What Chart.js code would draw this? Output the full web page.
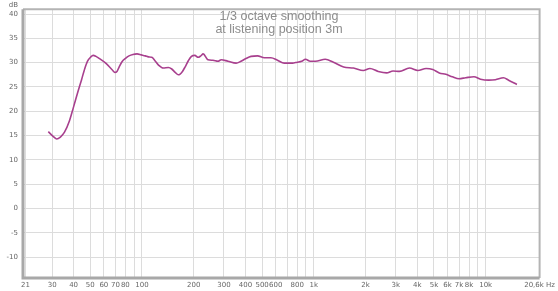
<!DOCTYPE html>
<html><head><meta charset="utf-8">
<script src="https://cdn.jsdelivr.net/npm/chart.js@4/dist/chart.umd.min.js"></script>
<style>html,body{margin:0;padding:0;background:#fff}#w{width:558px;height:291px;position:relative}</style>
</head><body><div id="w"><canvas id="c"></canvas></div>
<script>
const freqHz = [28.5,30.5,31.9,33.5,35.4,37.8,39.9,42.2,44.5,46.1,48.2,50.4,52.0,54,56.3,61.5,67.2,69.6,71.5,73.4,76.5,80.2,84,88.6,93.6,99,104.6,109,114,119,124.8,133,142.5,149,156,162.8,166,172,178,186,194,203,212,220,227,242,259,277,289,316,353,377,400,431,470,515,563,614,672,750,800,850,894,953,1022,1165,1300,1491,1700,1940,2120,2370,2650,2890,3150,3600,4030,4500,4920,5370,5860,6400,7000,7650,8540,9330,10420,11400,12700,13600,15200];
const splDb = [15.8,14.8,14.3,14.7,15.7,18.0,20.8,23.8,26.5,28.4,30.3,31.2,31.5,31.3,30.9,29.9,28.5,28.0,28.2,29.0,30.2,30.9,31.4,31.7,31.8,31.6,31.4,31.2,31.1,30.4,29.5,28.9,29.0,28.7,28.0,27.5,27.6,28.2,29.1,30.4,31.3,31.5,31.1,31.4,31.8,30.6,30.5,30.3,30.6,30.3,29.9,30.3,30.8,31.3,31.4,31.0,31.0,30.5,29.9,29.9,30.1,30.3,30.7,30.3,30.3,30.7,30.1,29.1,28.9,28.4,28.8,28.2,27.9,28.3,28.2,28.9,28.4,28.8,28.6,27.9,27.6,27.1,26.7,26.9,27.1,26.6,26.4,26.5,26.9,26.4,25.5];
const xGridValues = [21,30,40,50,60,70,80,90,100,200,300,400,500,600,700,800,900,1000,2000,3000,4000,5000,6000,7000,8000,9000,10000,20600];
const xTickLabels = {21:'21',30:'30',40:'40',50:'50',60:'60',70:'70',80:'80',100:'100',200:'200',300:'300',400:'400',500:'500',600:'600',800:'800',1000:'1k',2000:'2k',3000:'3k',4000:'4k',5000:'5k',6000:'6k',7000:'7k',8000:'8k',10000:'10k',20600:'20,6k Hz'};
const yTickValues = [-10,-5,0,5,10,15,20,25,30,35,40];
const titleLines = ['1/3 octave smoothing','at listening position 3m'];
const yUnit = 'dB';

const points = freqHz.map((f,i)=>({x:f,y:splDb[i]}));

const deco = {
  id:'deco',
  afterDraw(chart){
    const {ctx, chartArea:a} = chart;
    ctx.save();
    ctx.strokeStyle = '#b4b4b4';
    ctx.lineWidth = 2;
    ctx.beginPath();
    ctx.moveTo(a.left, a.top); ctx.lineTo(a.right, a.top); ctx.lineTo(a.right, a.bottom);
    ctx.stroke();
    ctx.strokeStyle = '#a8a8a8';
    ctx.lineWidth = 3;
    ctx.beginPath();
    ctx.moveTo(a.left, a.top); ctx.lineTo(a.left, a.bottom); ctx.lineTo(a.right, a.bottom);
    ctx.stroke();
    ctx.fillStyle = '#8c8c8c';
    ctx.font = '12.5px "Liberation Sans", Arial, sans-serif';
    ctx.textAlign = 'center';
    ctx.textBaseline = 'middle';
    ctx.fillText(titleLines[0], 279, 17);
    ctx.fillText(titleLines[1], 279, 30);
    ctx.fillStyle = '#666';
    ctx.font = '7px "DejaVu Sans", sans-serif';
    ctx.textAlign = 'right';
    ctx.fillText(yUnit, 18, 5);
    ctx.restore();
  }
};

new Chart(document.getElementById('c'), {
  type:'line',
  data:{datasets:[{data:points, borderColor:'#a8408e', borderWidth:1.6, pointRadius:0, fill:false, tension:0.4, cubicInterpolationMode:'monotone'}]},
  options:{
    responsive:true, maintainAspectRatio:false, animation:false,
    layout:{padding:{top:9,right:13,left:0,bottom:0}},
    plugins:{legend:{display:false}, tooltip:{enabled:false}},
    scales:{
      x:{type:'logarithmic', min:20.3, max:20600,
        afterBuildTicks(s){ s.ticks = xGridValues.map(v=>({value:v})); },
        afterFit(s){ s.height = 13; },
        grid:{color:'#dcdcdc', lineWidth:1, drawTicks:false},
        border:{display:false},
        ticks:{autoSkip:false, maxRotation:0, padding:3, color:'#666', font:{size:7, family:'"DejaVu Sans", sans-serif'},
          callback(v){ return xTickLabels[v] !== undefined ? xTickLabels[v] : ''; }}
      },
      y:{min:-14.3, max:41,
        afterBuildTicks(s){ s.ticks = yTickValues.map(v=>({value:v})); },
        afterFit(s){ s.width = 23; },
        grid:{color:'#dcdcdc', lineWidth:1, drawTicks:false},
        border:{display:false},
        ticks:{padding:5, color:'#666', font:{size:7, family:'"DejaVu Sans", sans-serif'}}
      }
    }
  },
  plugins:[deco]
});
</script></body></html>
